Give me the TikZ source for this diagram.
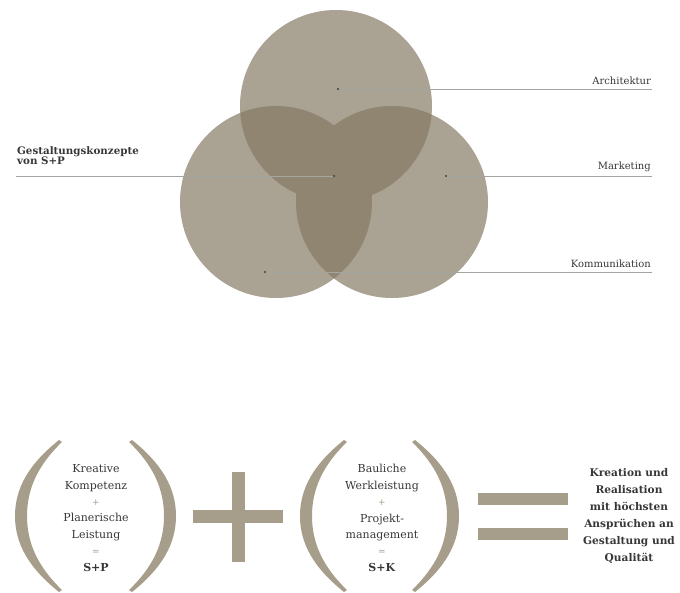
\documentclass[tikz,border=0pt]{standalone}
\usepackage{fontspec}
\setmainfont{DejaVu Serif}
\usepackage{tikz}
\usetikzlibrary{positioning,calc}
\definecolor{circlecolor}{RGB}{170,162,146}
\definecolor{overlapcolor}{RGB}{143,133,113}
\definecolor{signcolor}{RGB}{166,157,138}
\definecolor{textcolor}{RGB}{55,55,55}
\definecolor{leadercolor}{RGB}{165,165,160}

% one big bracket, drawn as a filled crescent (opening to the right)
\newcommand{\bigbracket}[2]{%
  \fill[signcolor, shift={(#1)}, xscale=#2]
    (22,-76) .. controls (-8,-52) and (-22,-28) .. (-22,0)
    .. controls (-22,28) and (-8,52) .. (22,76)
    -- (25,74) .. controls (0,50) and (-10,26) .. (-10,0)
    .. controls (-10,-26) and (0,-50) .. (25,-74) -- cycle;}

\begin{document}
\begin{tikzpicture}[
    x=1pt, y=-1pt,
    lbl/.style={font=\fontsize{10}{12}\selectfont, text=textcolor, inner sep=1pt},
    leader/.style={draw=leadercolor, line width=0.6pt},
    dot/.style={circle, fill=black!75, inner sep=0pt, minimum size=2.2pt},
    formula/.style={align=center, text=textcolor,
        font=\fontsize{11}{16.4}\selectfont},
    result/.style={align=center, text=textcolor,
        font=\bfseries\fontsize{10.6}{17}\selectfont}
]
\useasboundingbox (0,0) rectangle (680,593);

% circle centres
\coordinate (ctop) at (336,106);
\coordinate (cleft) at (276,202);
\coordinate (cright) at (392,202);

% circles
\fill[circlecolor] (ctop) circle (96);
\fill[circlecolor] (cleft) circle (96);
\fill[circlecolor] (cright) circle (96);
\begin{scope}
  \clip (ctop) circle (96);
  \fill[overlapcolor] (cleft) circle (96);
  \fill[overlapcolor] (cright) circle (96);
\end{scope}
\begin{scope}
  \clip (cleft) circle (96);
  \fill[overlapcolor] (cright) circle (96);
\end{scope}

% labels
\node[dot] (darch) at (338,89) {};
\node[dot] (dmark) at (446,176) {};
\node[dot] (dkomm) at (265,272) {};
\node[dot] (dgest) at (334,176) {};

\node[lbl, anchor=south east] (arch) at (652,86) {Architektur};
\node[lbl, anchor=south east] (mark) at (652,173) {Marketing};
\node[lbl, anchor=south east] (komm) at (652,269) {Kommunikation};
\node[lbl, font=\bfseries\fontsize{10.3}{10.5}\selectfont, align=left,
      anchor=south west] (gest) at (16,166) {Gestaltungskonzepte\\von S+P};

\draw[leader] (darch) -- (darch -| arch.south east);
\draw[leader] (dmark) -- (dmark -| mark.south east);
\draw[leader] (dkomm) -- (dkomm -| komm.south east);
\draw[leader] (gest.south west |- dgest) -- (dgest);

% formula
\bigbracket{37,516}{1}
\bigbracket{154,516}{-1}
\bigbracket{322,516}{1}
\bigbracket{437,516}{-1}

\fill[signcolor] (193,510) rectangle (283,523);
\fill[signcolor] (232,472) rectangle (245,562);
\fill[signcolor] (478,493) rectangle (568,505);
\fill[signcolor] (478,528) rectangle (568,540);

\node[formula] (kreativ) at (96,518)
  {Kreative\\Kompetenz\\{\color{signcolor}\small+}\\Planerische\\Leistung\\{\color{signcolor}\small=}\\\textbf{S+P}};
\node[formula] (baulich) at (382,518)
  {Bauliche\\Werkleistung\\{\color{signcolor}\small+}\\Projekt-\\management\\{\color{signcolor}\small=}\\\textbf{S+K}};
\node[result] (ergebnis) at (629,516)
  {Kreation und\\Realisation\\mit höchsten\\Ansprüchen an\\Gestaltung und\\Qualität};

\end{tikzpicture}
\end{document}
